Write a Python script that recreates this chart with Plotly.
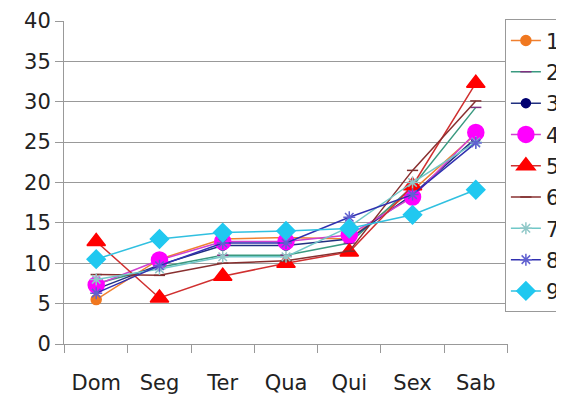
import plotly.graph_objects as go

days = ["Dom", "Seg", "Ter", "Qua", "Qui", "Sex", "Sab"]
names = ["1", "2", "3", "4", "5", "6", "7", "8", "9"]

s1 = [5.5, 10.5, 13.0, 13.2, 13.0, 19.0, 26.0]
s2 = [7.5, 9.5, 11.0, 11.0, 12.5, 19.5, 29.3]
s3 = [6.8, 9.8, 12.2, 12.2, 13.0, 18.5, 25.5]
s4 = [7.3, 10.4, 12.7, 12.7, 13.5, 18.2, 26.2]
s5 = [12.7, 5.7, 8.4, 10.0, 11.4, 19.6, 32.3]
s6 = [8.6, 8.5, 10.0, 10.3, 11.5, 21.5, 30.1]
s7 = [8.0, 9.3, 10.8, 10.8, 14.5, 20.0, 25.0]
s8 = [6.3, 9.7, 12.5, 12.5, 15.7, 18.5, 24.9]
s9 = [10.5, 13.0, 13.8, 14.0, 14.3, 16.0, 19.1]

series = [s1, s2, s3, s4, s5, s6, s7, s8, s9]
line_colors = ["#F08030", "#3A9A80", "#203080", "#D040D0", "#D03030",
               "#883030", "#70C8C8", "#3030B0", "#30C0E0"]
marker_colors = ["#F07820", "#803080", "#000070", "#FF00FF", "#FF0000",
                 "#803030", "#90C8C8", "#6060D0", "#20C8F0"]
symbols = ["circle", "line-ew", "circle", "circle", "triangle-up",
           "line-ew", "asterisk", "asterisk", "diamond"]
sizes = [10, 8, 9, 16, 16, 8, 10, 10, 14]

fig = go.Figure()
for n, s, lc, mc, sym, sz in zip(names, series, line_colors, marker_colors, symbols, sizes):
    fig.add_trace(go.Scatter(
        x=days, y=s, name=n, mode="lines+markers", legendgroup=n,
        line=dict(color=lc, width=1.5),
        marker=dict(symbol=sym, size=sz, color=mc,
                    line=dict(color=mc, width=1.5)),
    ))

FONT = "DejaVu Sans, Verdana, sans-serif"
fig.update_layout(
    width=564, height=396,
    margin=dict(l=56, r=64, t=13, b=60, autoexpand=False),
    paper_bgcolor="white", plot_bgcolor="white",
    font=dict(family=FONT, size=21, color="#222222"),
    showlegend=True,
    legend=dict(x=0.993, xanchor="left", y=1.005, yanchor="top",
                bgcolor="white",
                bordercolor="#999999", borderwidth=1,
                font=dict(family=FONT, size=21, color="#222222"),
                tracegroupgap=1, itemwidth=30, maxheight=1.0),
    xaxis=dict(showgrid=False, showline=True, linecolor="#999999", linewidth=1,
               ticks="outside", tickson="boundaries", ticklen=8,
               tickcolor="#999999", ticklabelstandoff=20,
               tickfont=dict(family=FONT, size=21, color="#222222")),
    yaxis=dict(range=[0, 40], dtick=5, showgrid=True, gridcolor="#999999",
               gridwidth=1, showline=True, linecolor="#999999", linewidth=1,
               ticks="outside", ticklen=8, tickcolor="#999999",
               zeroline=False,
               tickfont=dict(family=FONT, size=21, color="#222222")),
)

fig.write_html("out.html")
